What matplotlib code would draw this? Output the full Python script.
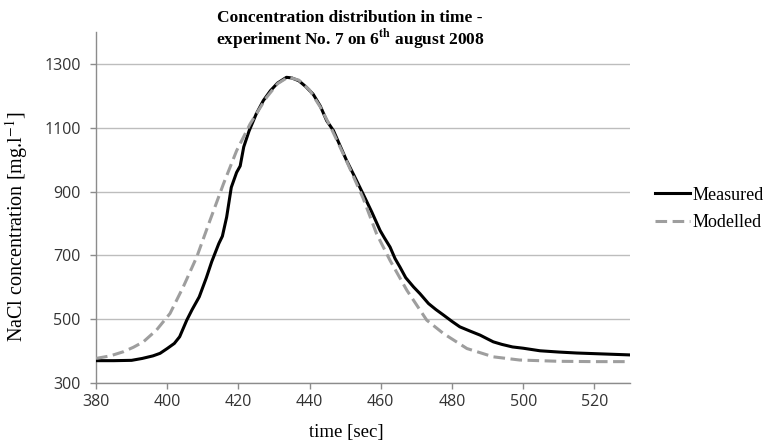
import matplotlib
matplotlib.use("Agg")
import matplotlib.pyplot as plt

# measured concentration
t_measured = [380, 385, 390, 393, 396, 398, 400, 402, 403.5, 405.5, 407, 409, 411,
              412.5, 414.5, 415.5, 416.7, 418, 419.5, 420.5, 421.5, 423, 425, 427,
              429, 431, 433.5, 435, 437, 439, 441, 443, 444.8, 446.7, 448.5, 450.4,
              452.5, 455, 457.5, 459.8, 461, 462.6, 464, 465.4, 467, 469.2, 471,
              473.4, 475.5, 477.6, 480, 482.2, 485, 487.9, 490, 491.6, 494, 497,
              500, 504.7, 510, 515, 520, 525, 530]
c_measured = [370, 370, 371, 377, 385, 393, 408, 424, 445, 497, 530, 570, 630,
              680, 737, 760, 820, 913, 960, 980, 1040, 1090, 1143, 1185,
              1216, 1240, 1258, 1256, 1247, 1228, 1205, 1168, 1122, 1091, 1045, 997,
              950, 893, 835, 778, 755, 726, 690, 663, 630, 601, 580,
              549, 530, 513, 493, 476, 463, 450, 438, 429, 421, 413,
              409, 401, 397, 394, 392, 390, 388]

# modelled concentration
t_model = [380, 384, 387.7, 390.5, 393.3, 397, 400.8, 404.5, 408.3, 412, 415.8,
           419.5, 423.3, 427.9, 431, 434, 437, 440, 443, 446, 450, 455, 458.8,
           462.6, 467.3, 472.9, 477.6, 484.2, 491.6, 499, 510, 520, 530]
c_model = [377, 385, 398, 412, 429, 466, 518, 601, 695, 809, 924,
           1028, 1112, 1195, 1238, 1259, 1249, 1218, 1165, 1100, 1005, 880, 768,
           684, 591, 497, 455, 408, 382, 372, 368, 367, 367]

x_ticks = [380, 400, 420, 440, 460, 480, 500, 520]
y_ticks = [300, 500, 700, 900, 1100, 1300]

plt.rcParams['mathtext.fontset'] = 'stix'
serif = 'Liberation Serif'
sans = 'Open Sans'

fig = plt.figure(figsize=(7.67, 4.43), dpi=100)
ax = fig.add_axes([96/767, 1 - 383/443, 534/767, 351/443])

ax.plot(t_measured, c_measured, color='black', lw=2.2, label='Measured', zorder=3)
ax.plot(t_model, c_model, color='#9e9e9e', lw=2.2, dashes=(3.8, 1.8),
        dash_capstyle='butt', label='Modelled', zorder=4)

ax.set_xlim(380, 530)
ax.set_ylim(300, 1400)
ax.set_xticks(x_ticks)
ax.set_yticks(y_ticks)
for s in ['top', 'right']:
    ax.spines[s].set_visible(False)
for s in ['left', 'bottom']:
    ax.spines[s].set_color('#8c8c8c')
    ax.spines[s].set_linewidth(1)
ax.yaxis.grid(True, color='#bdbdbd', lw=1)
ax.set_axisbelow(True)
ax.tick_params(axis='both', colors='#8c8c8c', labelcolor='#333333', length=4, width=1)
ax.tick_params(axis='y', pad=7)
ax.tick_params(axis='x', pad=4)
for lab in ax.get_xticklabels() + ax.get_yticklabels():
    lab.set_fontfamily(sans)
    lab.set_fontsize(11.5)

# label coords: x label anchored at its top, y label at its right side
ax.set_xlabel('time [sec]', family=serif, fontsize=13.5)
ax.xaxis.set_label_coords(0.468, -0.118)
ax.set_ylabel(r'NaCl concentration [mg.l$^{-1}$]', family=serif, fontsize=14.5)
ax.yaxis.set_label_coords(-0.124, 0.444)

fig.text(350/767, 1 - 18/443, 'Concentration distribution in time -', family=serif,
         weight='bold', fontsize=12.5, ha='center', va='center')
fig.text(350/767, 1 - 40/443, r'experiment No. 7 on 6$^{\mathbf{th}}$ august 2008', family=serif,
         weight='bold', fontsize=12.5, ha='center', va='center')

leg = fig.legend(loc='center left', bbox_to_anchor=(655/767, 1 - 209/443), frameon=False,
                 prop={'family': serif, 'size': 13}, handlelength=1.95, handletextpad=0.15,
                 labelspacing=0.6, borderpad=0, borderaxespad=0)

fig.savefig('out.png', dpi=100)
